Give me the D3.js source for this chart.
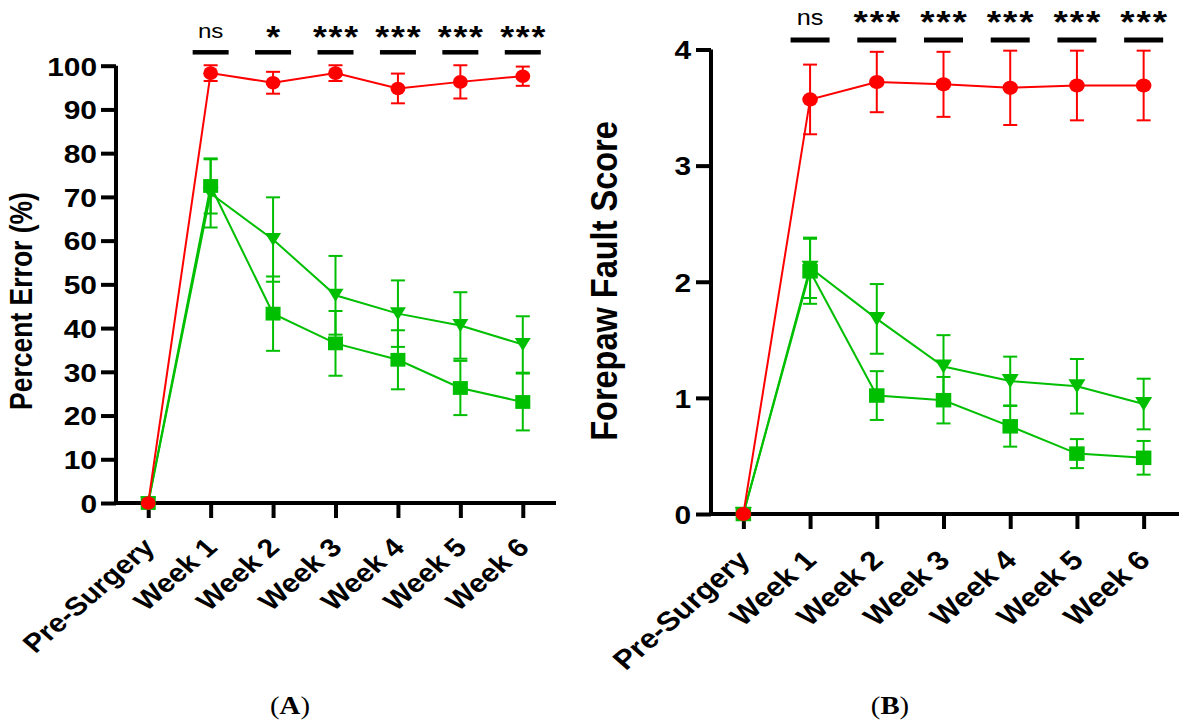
<!DOCTYPE html>
<html><head><meta charset="utf-8">
<script src="https://cdn.jsdelivr.net/npm/d3@7"></script>
<style>body{margin:0;background:#fff;} svg{display:block;}</style>
</head><body>
<svg id="chart" width="1185" height="727"></svg>
<script>
// ---------- data ----------
const categories = ["Pre-Surgery","Week 1","Week 2","Week 3","Week 4","Week 5","Week 6"];

const percentTicks = [0,10,20,30,40,50,60,70,80,90,100];
const percentRed = [0, 98.3, 96.1, 98.3, 94.8, 96.3, 97.6];
const percentRedErr = [0, 1.8, 2.5, 1.8, 3.4, 3.8, 2.2];
const percentSquare = [0, 72.5, 43.3, 36.5, 32.75, 26.3, 23.1];
const percentSquareErr = [0, 6.3, 8.5, 7.4, 6.75, 6.2, 6.5];
const percentTriangle = [0, 70.8, 60.25, 47.5, 43.3, 40.6, 36.25];
const percentTriangleErr = [0, 7.8, 9.65, 9.0, 7.6, 7.6, 6.45];
const percentSig = ["ns","*","***","***","***","***"];

const faultTicks = [0,1,2,3,4];
const faultRed = [0, 3.57, 3.72, 3.70, 3.67, 3.69, 3.69];
const faultRedErr = [0, 0.30, 0.26, 0.28, 0.32, 0.30, 0.30];
const faultSquare = [0, 2.09, 1.02, 0.98, 0.755, 0.52, 0.484];
const faultSquareErr = [0, 0.28, 0.21, 0.20, 0.175, 0.125, 0.145];
const faultTriangle = [0, 2.12, 1.68, 1.27, 1.145, 1.10, 0.947];
const faultTriangleErr = [0, 0.26, 0.30, 0.27, 0.21, 0.235, 0.218];
const faultSig = ["ns","***","***","***","***","***"];

// ---------- layout ----------
const RED = "#ff0000", GREEN = "#00bf00";
const SX = 1.15; // horizontal stretch of the original figure
const FONT = "'Liberation Sans', Arial, sans-serif";
const svg = d3.select("#chart");

const panels = [
  {ticks: percentTicks, red: percentRed, redErr: percentRedErr, sq: percentSquare, sqErr: percentSquareErr,
   tri: percentTriangle, triErr: percentTriangleErr, sig: percentSig, ymax: 100,
   left: 116, right: 556, rangeL: 117, rangeR: 554, y0: 503, yTop: 65.7,
   tickLabelX: 97, tickFont: 26, xLabFont: 26, xLabDx: 8, xLabDy: 46,
   title: "Percent Error (%)", titleX: 32, titleY: 301, titleFont: 26.5,
   barY: 52.3, barW: 36, barH: 4.5, starY: 47.5, starFont: 31, nsY: 37.5, nsFont: 21,
   caption: "A", capX: 290, rx: 7.4, ry: 6.8, sqW: 15, sqH: 13.8, triW: 16, triH: 13, capW: 14},
  {ticks: faultTicks, red: faultRed, redErr: faultRedErr, sq: faultSquare, sqErr: faultSquareErr,
   tri: faultTriangle, triErr: faultTriangleErr, sig: faultSig, ymax: 4,
   left: 711, right: 1179, rangeL: 710, rangeR: 1177, y0: 514, yTop: 49.5,
   tickLabelX: 691, tickFont: 26, xLabFont: 27, xLabDx: 8, xLabDy: 48,
   title: "Forepaw Fault Score", titleX: 617, titleY: 281, titleFont: 32.5,
   barY: 40, barW: 39, barH: 5, starY: 32.5, starFont: 32, nsY: 25, nsFont: 22,
   caption: "B", capX: 890, rx: 7.8, ry: 7.1, sqW: 15.5, sqH: 14.5, triW: 17, triH: 14, capW: 14}
];

function stretch(x, y, rot) {
  return `translate(${x},${y}) scale(${SX},1)` + (rot ? ` rotate(${rot})` : "");
}

panels.forEach(p => {
  const g = svg.append("g");
  const x = d3.scalePoint().domain(categories).range([p.rangeL, p.rangeR]).padding(0.5);
  const y = d3.scaleLinear().domain([0, p.ymax]).range([p.y0, p.yTop]);

  // y axis
  const yAxis = d3.axisLeft(y).tickValues(p.ticks).tickSize(15).tickSizeOuter(0).tickFormat(d3.format("d"));
  const ya = g.append("g").attr("transform", `translate(${p.left},0)`).call(yAxis);
  ya.select(".domain").remove();
  ya.selectAll(".tick line").attr("stroke", "#000").attr("stroke-width", 4);
  ya.selectAll(".tick text")
    .attr("x", null).attr("dy", null)
    .attr("transform", d => stretch(p.tickLabelX - p.left, p.tickFont * 0.358, 0))
    .attr("text-anchor", "end")
    .style("font-family", FONT).style("font-weight", "bold").style("font-size", p.tickFont + "px")
    .attr("fill", "#000");
  g.append("line").attr("x1", p.left).attr("x2", p.left).attr("y1", y(p.ymax)).attr("y2", p.y0 + 2)
    .attr("stroke", "#000").attr("stroke-width", 4);

  // x axis
  const xAxis = d3.axisBottom(x).tickSize(15).tickSizeOuter(0).tickFormat("");
  const xa = g.append("g").attr("transform", `translate(0,${p.y0})`).call(xAxis);
  xa.select(".domain").remove();
  xa.selectAll(".tick line").attr("stroke", "#000").attr("stroke-width", 4);
  g.append("line").attr("x1", p.left - 2).attr("x2", p.right).attr("y1", p.y0).attr("y2", p.y0)
    .attr("stroke", "#000").attr("stroke-width", 4);
  g.selectAll(".xlab").data(categories).join("text")
    .attr("transform", d => stretch(x(d) + p.xLabDx, p.y0 + p.xLabDy, -45))
    .attr("text-anchor", "end")
    .style("font-family", FONT).style("font-weight", "bold").style("font-size", p.xLabFont + "px")
    .text(d => d);

  // y title
  g.append("text").attr("transform", stretch(p.titleX, p.titleY, -90))
    .attr("text-anchor", "middle")
    .style("font-family", FONT).style("font-weight", "bold").style("font-size", p.titleFont + "px")
    .text(p.title);

  // series
  const line = d3.line().x((d, i) => x(categories[i])).y(d => y(d));
  const series = [
    {vals: p.tri, errs: p.triErr, color: GREEN, shape: "tri"},
    {vals: p.sq, errs: p.sqErr, color: GREEN, shape: "sq"},
    {vals: p.red, errs: p.redErr, color: RED, shape: "circ"}
  ];
  series.forEach(s => {
    const sg = g.append("g");
    sg.append("path").attr("d", line(s.vals)).attr("fill", "none").attr("stroke", s.color).attr("stroke-width", 2);
    s.vals.forEach((v, i) => {
      const e = s.errs[i];
      if (e <= 0) return;
      const cx = x(categories[i]);
      sg.append("line").attr("x1", cx).attr("x2", cx).attr("y1", y(v - e)).attr("y2", y(v + e))
        .attr("stroke", s.color).attr("stroke-width", 2);
      [v - e, v + e].forEach(t => {
        sg.append("line").attr("x1", cx - p.capW / 2).attr("x2", cx + p.capW / 2).attr("y1", y(t)).attr("y2", y(t))
          .attr("stroke", s.color).attr("stroke-width", 2);
      });
    });
    s.vals.forEach((v, i) => {
      const cx = x(categories[i]), cy = y(v);
      if (s.shape === "circ") {
        sg.append("ellipse").attr("cx", cx).attr("cy", cy).attr("rx", p.rx).attr("ry", p.ry).attr("fill", s.color);
      } else if (s.shape === "sq") {
        sg.append("rect").attr("x", cx - p.sqW / 2).attr("y", cy - p.sqH / 2).attr("width", p.sqW).attr("height", p.sqH)
          .attr("fill", s.color);
      } else {
        const w = p.triW, h = p.triH;
        sg.append("path").attr("d", `M${cx - w / 2},${cy - h / 2}L${cx + w / 2},${cy - h / 2}L${cx},${cy + h / 2}Z`)
          .attr("fill", s.color);
      }
    });
  });

  // significance
  p.sig.forEach((s, i) => {
    const cx = x(categories[i + 1]);
    g.append("rect").attr("x", cx - p.barW / 2).attr("y", p.barY - p.barH / 2).attr("width", p.barW).attr("height", p.barH)
      .attr("fill", "#000");
    const isNs = s === "ns";
    const t = g.append("text").attr("transform", stretch(cx, isNs ? p.nsY : p.starY, 0))
      .attr("text-anchor", "middle")
      .style("font-family", FONT).style("font-size", (isNs ? p.nsFont : p.starFont) + "px")
      .style("font-weight", isNs ? "normal" : "bold");
    if (isNs) {
      t.text(s);
    } else {
      // individual stars with small gaps
      const n = s.length, step = p.starFont * 0.44;
      for (let k = 0; k < n; k++) {
        t.append("tspan").attr("x", (k - (n - 1) / 2) * step).text("*");
      }
    }
  });

  // caption
  const cap = g.append("text").attr("transform", stretch(p.capX, 714, 0)).attr("text-anchor", "middle")
    .style("font-family", "'Liberation Serif', 'Times New Roman', serif").style("font-size", "25px");
  cap.append("tspan").text("(");
  cap.append("tspan").style("font-weight", "bold").text(p.caption);
  cap.append("tspan").text(")");
});
</script>
</body></html>
